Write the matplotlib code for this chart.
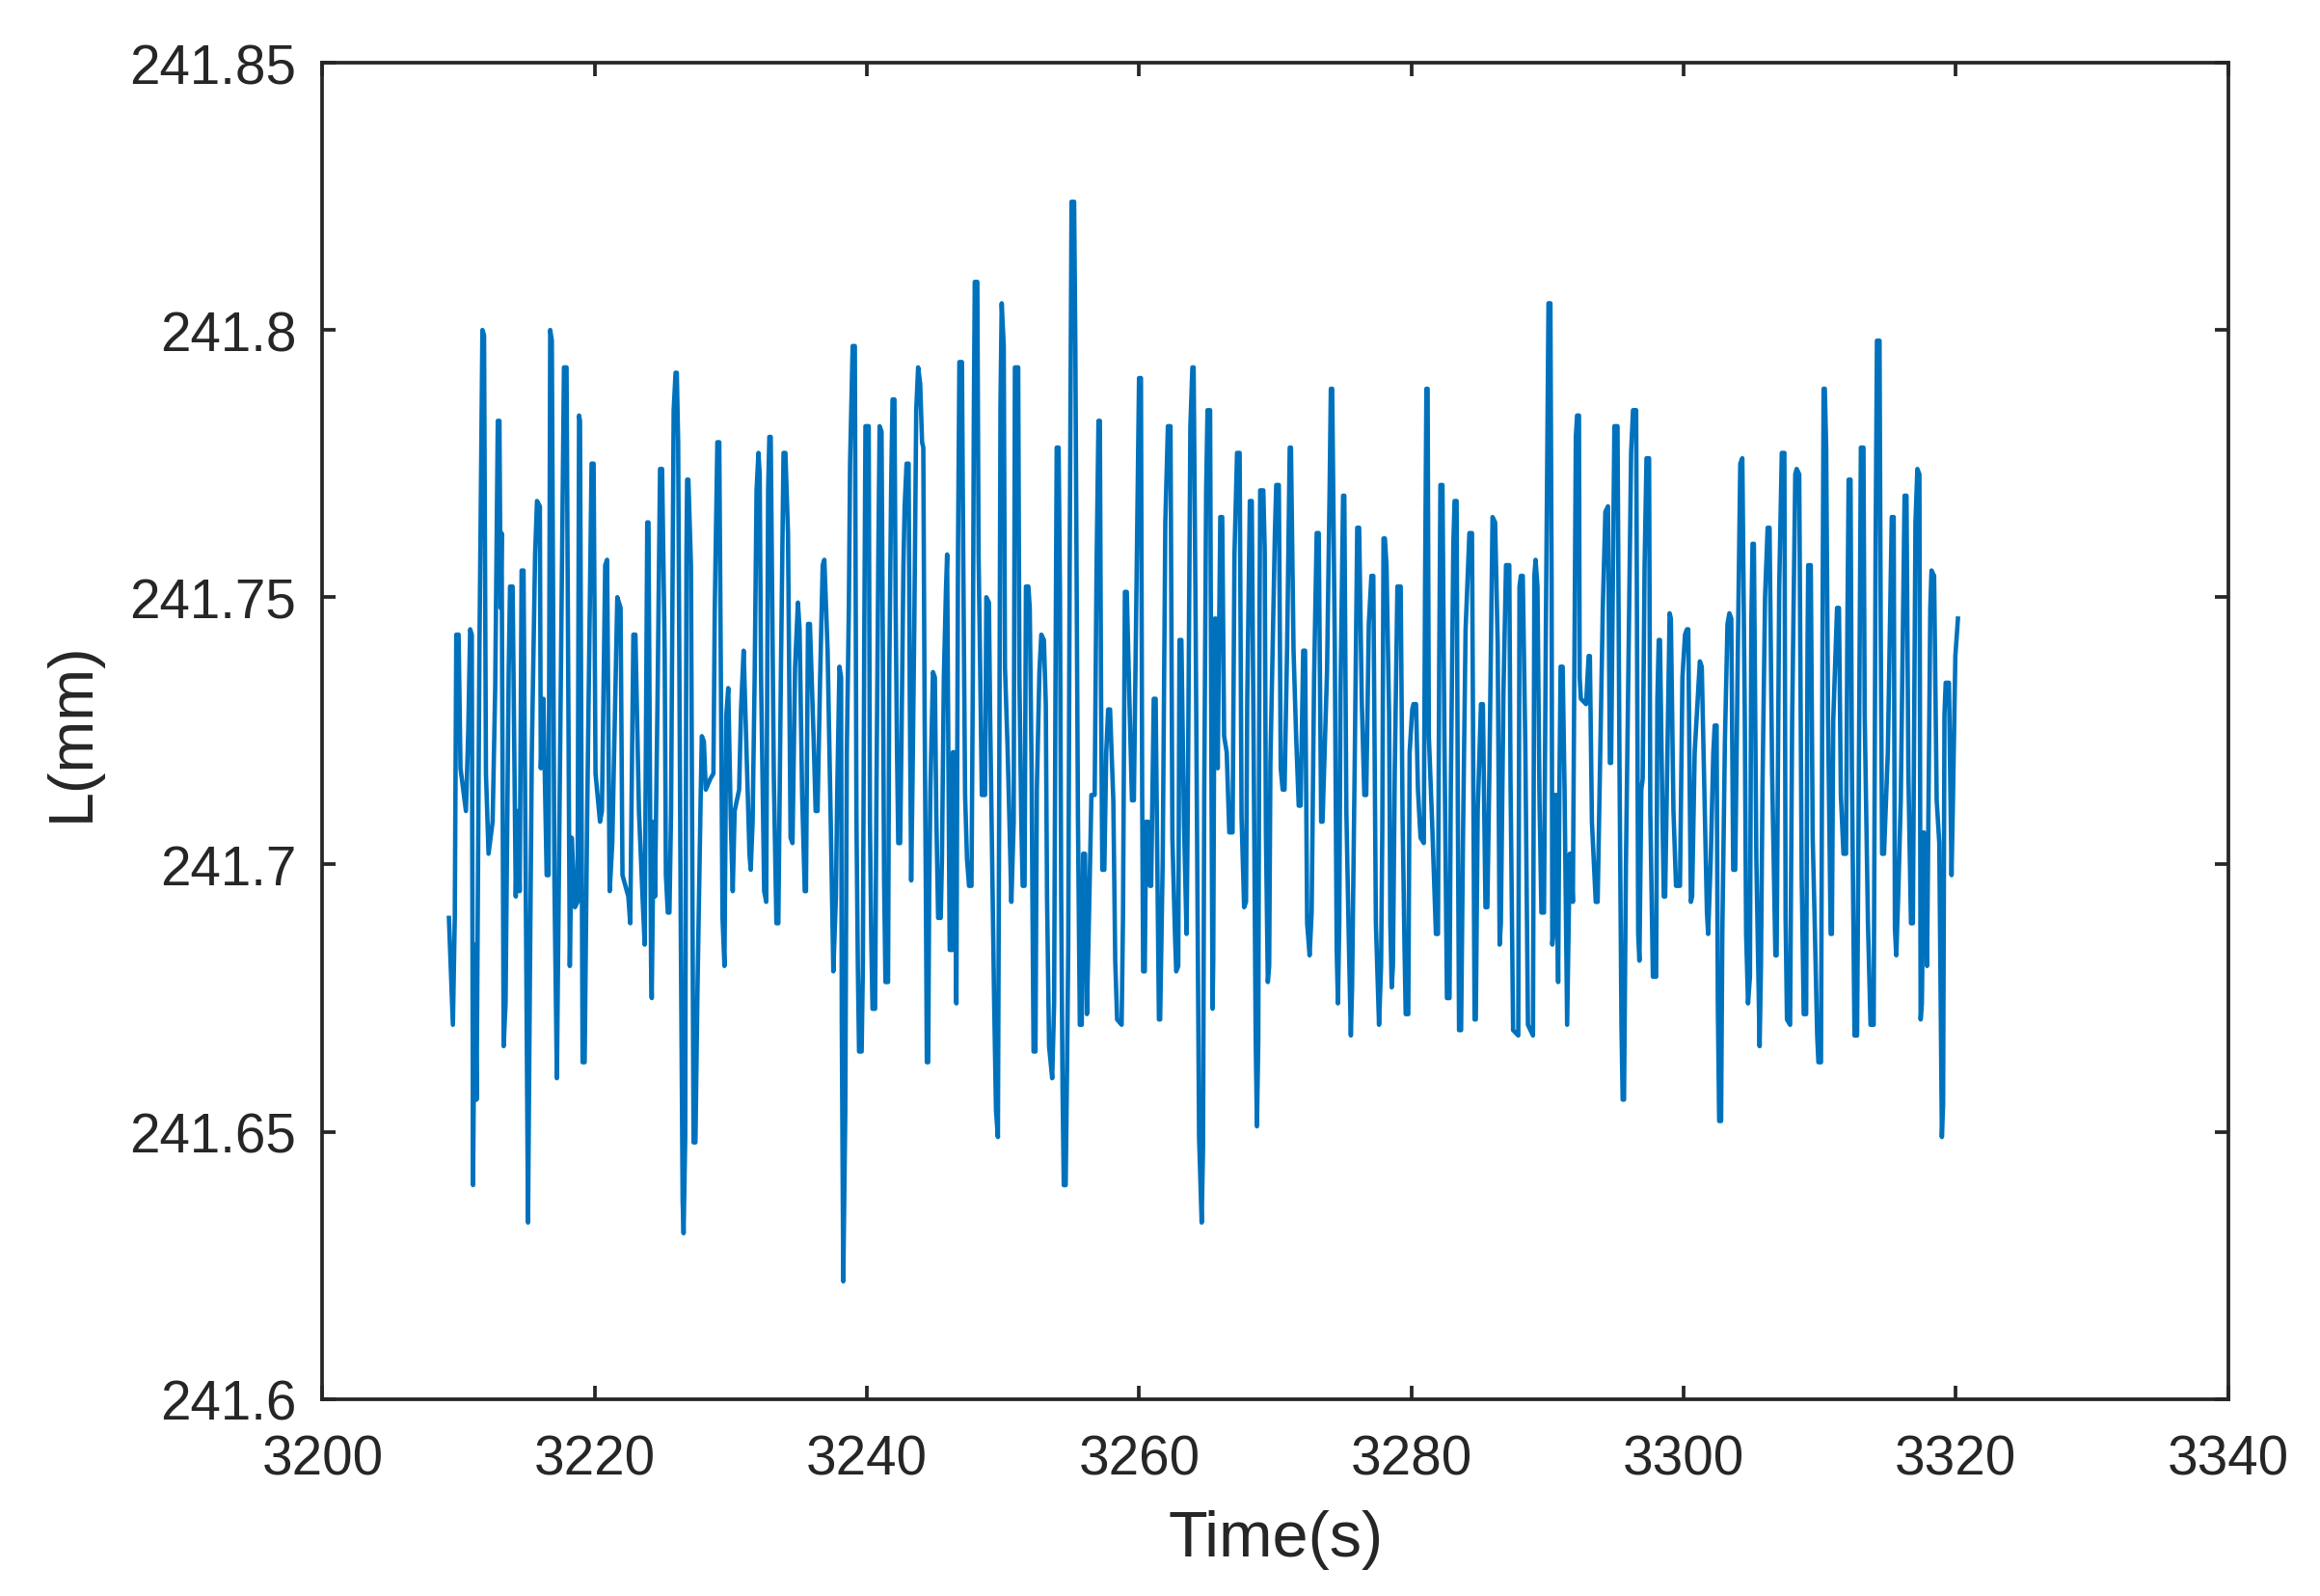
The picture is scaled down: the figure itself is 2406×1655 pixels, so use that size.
import matplotlib
matplotlib.use("Agg")
import matplotlib.pyplot as plt
import numpy as np

time_s = [
    3209.29, 3209.58, 3209.72, 3209.83, 3210.00, 3210.14, 3210.54, 3210.71, 3210.85, 3210.97,
    3211.06, 3211.20, 3211.32, 3211.53, 3211.75, 3211.87, 3212.01, 3212.20, 3212.50, 3212.69,
    3212.88, 3213.00, 3213.09, 3213.16, 3213.31, 3213.45, 3213.68, 3213.78, 3213.97, 3214.20,
    3214.34, 3214.49, 3214.63, 3214.77, 3214.91, 3215.10, 3215.24, 3215.38, 3215.62, 3215.76,
    3215.97, 3216.04, 3216.23, 3216.47, 3216.61, 3216.73, 3216.85, 3217.04, 3217.22, 3217.41,
    3217.74, 3217.93, 3218.10, 3218.17, 3218.31, 3218.55, 3218.74, 3218.85, 3218.92, 3219.11,
    3219.26, 3219.44, 3219.77, 3219.92, 3220.06, 3220.39, 3220.53, 3220.77, 3220.91, 3221.10,
    3221.29, 3221.66, 3221.90, 3222.04, 3222.47, 3222.61, 3222.84, 3222.99,
    3223.25, 3223.53, 3223.67, 3223.86, 3223.95, 3224.14, 3224.19, 3224.33, 3224.43, 3224.62,
    3224.80, 3224.95, 3225.14, 3225.23, 3225.37, 3225.49, 3225.61, 3225.80, 3225.94, 3226.03,
    3226.13, 3226.22, 3226.32, 3226.46, 3226.53, 3226.65, 3226.74, 3226.79, 3226.88, 3227.07,
    3227.17, 3227.26, 3227.40, 3227.54, 3227.78, 3227.87, 3228.02, 3228.16, 3228.49, 3228.72,
    3228.82, 3229.01, 3229.15, 3229.29, 3229.39, 3229.53, 3229.67, 3229.81, 3230.00, 3230.14,
    3230.28, 3230.61, 3230.75, 3230.94, 3231.13, 3231.37, 3231.46, 3231.60, 3231.75, 3231.89,
    3232.03, 3232.12, 3232.22, 3232.45, 3232.60, 3232.74, 3232.83, 3232.93, 3233.16, 3233.35,
    3233.49, 3233.68, 3233.87, 3234.01, 3234.20, 3234.39, 3234.53, 3234.72, 3234.93, 3235.05,
    3235.24, 3235.43, 3235.52, 3235.67, 3235.81, 3236.09, 3236.23, 3236.37, 3236.56, 3236.75,
    3236.87,
    3237.11, 3237.34, 3237.53, 3237.72, 3237.82, 3237.98, 3238.10, 3238.15, 3238.26, 3238.41,
    3238.52, 3238.67, 3238.76, 3238.95, 3239.11, 3239.23, 3239.33, 3239.42, 3239.61, 3239.70,
    3239.80, 3239.89, 3240.13, 3240.22, 3240.32, 3240.41, 3240.60, 3240.70, 3240.84, 3240.93,
    3241.07, 3241.17, 3241.26, 3241.36, 3241.55, 3241.64, 3241.78, 3241.88, 3242.02, 3242.11,
    3242.21, 3242.30, 3242.44, 3242.54, 3242.68, 3242.77, 3242.91, 3243.06, 3243.15, 3243.25,
    3243.34, 3243.48, 3243.62, 3243.76, 3243.91, 3244.05, 3244.14, 3244.24, 3244.33, 3244.40,
    3244.50, 3244.57, 3244.66, 3244.85, 3244.99, 3245.09, 3245.23, 3245.42, 3245.51, 3245.65,
    3245.80, 3245.89, 3245.98, 3246.08, 3246.27, 3246.31, 3246.41, 3246.48, 3246.57, 3246.69,
    3246.79, 3246.98, 3247.07, 3247.21, 3247.35, 3247.50, 3247.68, 3247.78, 3247.85, 3247.92,
    3248.11, 3248.20, 3248.30, 3248.44, 3248.68, 3248.77, 3248.96, 3249.05, 3249.20, 3249.34,
    3249.48, 3249.62, 3249.71, 3249.81, 3249.90, 3250.05, 3250.14, 3250.33, 3250.47, 3250.61,
    3250.78, 3250.87, 3251.11, 3251.20, 3251.34, 3251.44, 3251.58, 3251.68, 3251.86, 3251.96,
    3252.10, 3252.15, 3252.24, 3252.38, 3252.48, 3252.67, 3252.81, 3253.00, 3253.14, 3253.23,
    3253.38, 3253.61, 3253.75, 3253.85, 3253.94, 3254.08, 3254.18, 3254.27, 3254.37, 3254.46,
    3254.60, 3254.70, 3254.79, 3254.89, 3255.03, 3255.22, 3255.31, 3255.41, 3255.50, 3255.64,
    3255.78, 3255.88, 3256.02, 3256.16, 3256.35, 3256.49, 3256.73, 3256.87, 3257.01, 3257.11,
    3257.20, 3257.29, 3257.44, 3257.58, 3257.72, 3257.86, 3258.10, 3258.24, 3258.38, 3258.71,
    3258.81, 3258.95, 3259.09, 3259.28, 3259.47, 3259.61, 3259.80, 3259.99, 3260.13, 3260.22,
    3260.29, 3260.41, 3260.51, 3260.65, 3260.79, 3260.88, 3261.07, 3261.21, 3261.36, 3261.45,
    3261.54, 3261.73, 3261.92, 3262.11, 3262.30, 3262.44, 3262.63, 3262.72, 3262.87, 3262.96,
    3263.10, 3263.29, 3263.48, 3263.57, 3263.76, 3263.91, 3264.00, 3264.14, 3264.33,
    3264.40, 3264.59, 3264.69, 3264.78, 3264.92, 3265.02, 3265.21, 3265.30, 3265.39, 3265.44,
    3265.54, 3265.63, 3265.77, 3265.96, 3266.10, 3266.24, 3266.43, 3266.62, 3266.86, 3267.00,
    3267.19, 3267.38, 3267.52, 3267.71, 3267.85, 3267.94, 3268.13, 3268.27, 3268.42, 3268.56,
    3268.65, 3268.75, 3268.84, 3268.89, 3269.12, 3269.22, 3269.31, 3269.45, 3269.55, 3269.64,
    3269.83, 3269.97, 3270.07, 3270.26, 3270.40, 3270.54, 3270.68, 3270.87, 3271.06, 3271.15,
    3271.34, 3271.53, 3271.72, 3271.86, 3272.05, 3272.19, 3272.34, 3272.52, 3272.67, 3272.85,
    3273.04, 3273.19, 3273.37, 3273.47, 3273.80, 3273.99, 3274.08, 3274.18, 3274.37, 3274.51,
    3274.60, 3274.70, 3274.79, 3274.98, 3275.07, 3275.22, 3275.40, 3275.55, 3275.64, 3275.83,
    3276.02, 3276.16, 3276.35, 3276.54, 3276.68, 3276.87, 3277.06, 3277.20, 3277.39, 3277.62,
    3277.77, 3277.86, 3277.95, 3278.05,
    3278.17, 3278.36, 3278.45, 3278.55, 3278.64, 3278.78, 3278.97, 3279.21, 3279.35, 3279.49,
    3279.58, 3279.77, 3279.87, 3280.06, 3280.15, 3280.34, 3280.48, 3280.67, 3280.91, 3281.00,
    3281.10, 3281.19, 3281.28, 3281.52, 3281.71, 3281.80, 3281.95, 3282.04, 3282.13, 3282.28,
    3282.42, 3282.61, 3282.80, 3282.89, 3283.08, 3283.17, 3283.32, 3283.41, 3283.50, 3283.65,
    3283.79, 3283.98, 3284.26, 3284.45, 3284.54, 3284.64, 3284.73, 3284.87, 3285.11, 3285.25,
    3285.44, 3285.58, 3285.72, 3285.96, 3286.15, 3286.34, 3286.48, 3286.57, 3286.76, 3286.95,
    3287.19, 3287.28, 3287.47, 3287.85, 3287.94, 3288.04, 3288.18, 3288.37, 3288.56, 3288.93,
    3289.03, 3289.12, 3289.26, 3289.41, 3289.55, 3289.74, 3289.88, 3290.07, 3290.21, 3290.30,
    3290.35, 3290.49, 3290.54, 3290.63, 3290.78, 3290.87, 3290.96, 3291.11, 3291.25, 3291.44,
    3291.58, 3291.63, 3291.72, 3291.86,
    3292.00, 3292.08, 3292.17, 3292.31, 3292.36, 3292.45, 3292.83, 3293.02, 3293.11, 3293.26,
    3293.54, 3293.68, 3293.87, 3294.06, 3294.25, 3294.44, 3294.58, 3294.67, 3294.81, 3294.91,
    3295.14, 3295.29, 3295.43, 3295.52, 3295.62, 3295.76, 3295.90, 3296.14, 3296.28, 3296.51,
    3296.66, 3296.75, 3296.89, 3296.99, 3297.13, 3297.27, 3297.46, 3297.55, 3297.74, 3297.98,
    3298.07, 3298.17, 3298.26, 3298.45, 3298.54, 3298.64, 3298.88, 3298.97, 3299.06, 3299.25,
    3299.44, 3299.73, 3299.91, 3300.10, 3300.24, 3300.34, 3300.43, 3300.53, 3300.62, 3300.81,
    3301.19, 3301.33, 3301.52, 3301.71, 3301.80, 3301.99, 3302.18, 3302.28, 3302.42, 3302.51,
    3302.61, 3302.75, 3302.84, 3303.03, 3303.22, 3303.36, 3303.50, 3303.64, 3303.79, 3303.98,
    3304.16, 3304.31, 3304.49, 3304.59, 3304.73, 3304.87, 3304.97, 3305.06, 3305.16, 3305.34,
    3305.58, 3305.68,
    3305.79, 3305.98, 3306.17, 3306.31, 3306.50, 3306.74, 3306.83, 3307.02, 3307.21, 3307.40,
    3307.49, 3307.59, 3307.82, 3307.97, 3308.20, 3308.30, 3308.49, 3308.67, 3308.82, 3309.00,
    3309.10, 3309.15, 3309.34, 3309.48, 3309.62, 3309.81, 3309.90, 3310.09, 3310.19, 3310.28,
    3310.37, 3310.47, 3310.61, 3310.80, 3310.89, 3310.99, 3311.27, 3311.41, 3311.55, 3311.74,
    3311.93, 3312.03, 3312.12, 3312.26, 3312.36, 3312.55, 3312.74, 3312.83, 3313.02, 3313.21,
    3313.30, 3313.54, 3313.73, 3313.96, 3314.10, 3314.20, 3314.39, 3314.48, 3314.58, 3314.72,
    3315.00, 3315.29, 3315.43, 3315.52, 3315.62, 3315.76, 3315.95, 3316.23, 3316.37, 3316.51,
    3316.70, 3316.84, 3317.03, 3317.17, 3317.32, 3317.41, 3317.50, 3317.65, 3317.88, 3318.12,
    3318.21, 3318.40, 3318.59, 3318.78, 3318.92, 3318.97, 3319.06, 3319.16, 3319.25, 3319.49,
    3319.68, 3319.77, 3319.96, 3320.15,
]

length_mm = [
    241.690, 241.670, 241.690, 241.743, 241.743, 241.718, 241.710, 241.725, 241.744, 241.743,
    241.640, 241.685, 241.656, 241.740, 241.800, 241.799, 241.717, 241.702, 241.708, 241.733,
    241.783, 241.783, 241.748, 241.762, 241.666, 241.674, 241.736, 241.752, 241.752, 241.694,
    241.710, 241.695, 241.755, 241.755, 241.705, 241.633, 241.679, 241.721, 241.758, 241.768,
    241.767, 241.718, 241.731, 241.698, 241.698, 241.800, 241.798, 241.697, 241.660, 241.708,
    241.793, 241.793, 241.714, 241.681, 241.705, 241.692, 241.693, 241.784, 241.783, 241.663,
    241.663, 241.708, 241.775, 241.775, 241.717, 241.708, 241.710, 241.756, 241.757, 241.695,
    241.704, 241.750, 241.748, 241.698, 241.694, 241.689, 241.743, 241.743,
    241.710, 241.693, 241.685, 241.764, 241.764, 241.681, 241.675, 241.708, 241.694, 241.732,
    241.774, 241.774, 241.740, 241.698, 241.691, 241.691, 241.710, 241.785, 241.792, 241.792,
    241.779, 241.735, 241.689, 241.637, 241.631, 241.649, 241.758, 241.772, 241.772, 241.756,
    241.701, 241.648, 241.648, 241.675, 241.712, 241.724, 241.723, 241.714, 241.716, 241.717,
    241.748, 241.779, 241.779, 241.728, 241.690, 241.681, 241.728, 241.733, 241.708, 241.695,
    241.710, 241.714, 241.729, 241.740, 241.723, 241.702, 241.699, 241.708, 241.735, 241.770,
    241.777, 241.773, 241.735, 241.695, 241.693, 241.770, 241.780, 241.780, 241.716, 241.689,
    241.689, 241.736, 241.777, 241.777, 241.762, 241.705, 241.704, 241.737, 241.749, 241.744,
    241.713, 241.695, 241.695, 241.745, 241.745, 241.723, 241.710, 241.710, 241.735, 241.756,
    241.757,
    241.740, 241.708, 241.680, 241.694, 241.714, 241.737, 241.735, 241.671, 241.622, 241.654,
    241.721, 241.748, 241.775, 241.797, 241.797, 241.708, 241.681, 241.665, 241.665, 241.681,
    241.741, 241.782, 241.782, 241.708, 241.686, 241.673, 241.673, 241.714, 241.759, 241.782,
    241.781, 241.740, 241.697, 241.678, 241.678, 241.736, 241.771, 241.787, 241.787, 241.748,
    241.721, 241.704, 241.704, 241.724, 241.756, 241.767, 241.775, 241.775, 241.730, 241.697,
    241.714, 241.745, 241.785, 241.793, 241.790, 241.779, 241.778, 241.727, 241.694, 241.663,
    241.663, 241.694, 241.714, 241.736, 241.735, 241.710, 241.690, 241.690, 241.701, 241.735,
    241.751, 241.758, 241.721, 241.684, 241.684, 241.721, 241.721, 241.694, 241.674, 241.759,
    241.794, 241.794, 241.759, 241.713, 241.701, 241.696, 241.696, 241.735, 241.783, 241.809,
    241.809, 241.758, 241.740, 241.713, 241.713, 241.750, 241.749, 241.728, 241.701, 241.675,
    241.654, 241.649, 241.708, 241.786, 241.805, 241.797, 241.737, 241.722, 241.708, 241.693,
    241.708, 241.793, 241.793, 241.735, 241.708, 241.696, 241.696, 241.752, 241.752, 241.748,
    241.717, 241.696, 241.665, 241.665, 241.714, 241.736, 241.743, 241.742, 241.730, 241.694,
    241.666, 241.660, 241.674, 241.733, 241.778, 241.778, 241.751, 241.694, 241.658, 241.640,
    241.640, 241.662, 241.685, 241.754, 241.824, 241.824, 241.797, 241.752, 241.709, 241.670,
    241.670, 241.702, 241.702, 241.672, 241.695, 241.713, 241.713, 241.756, 241.783, 241.783,
    241.731, 241.699, 241.699, 241.721, 241.729, 241.729, 241.712, 241.682, 241.671, 241.670,
    241.690, 241.751, 241.751, 241.731, 241.712, 241.712, 241.751, 241.791, 241.791, 241.713,
    241.680, 241.680, 241.708, 241.708, 241.696, 241.696, 241.731, 241.731, 241.694, 241.671,
    241.671, 241.701, 241.764, 241.782, 241.782, 241.705, 241.687, 241.680, 241.681, 241.742,
    241.742, 241.708, 241.687, 241.710, 241.782, 241.793, 241.793, 241.748, 241.674,
    241.649, 241.633, 241.647, 241.714, 241.770, 241.785, 241.785, 241.722, 241.673, 241.682,
    241.746, 241.746, 241.718, 241.765, 241.765, 241.724, 241.721, 241.706, 241.706, 241.758,
    241.777, 241.777, 241.709, 241.692, 241.693, 241.731, 241.768, 241.768, 241.718, 241.667,
    241.651, 241.667, 241.747, 241.770, 241.770, 241.759, 241.706, 241.678, 241.681, 241.719,
    241.744, 241.762, 241.771, 241.771, 241.718, 241.714, 241.714, 241.741, 241.778, 241.778,
    241.740, 241.724, 241.711, 241.711, 241.740, 241.740, 241.689, 241.683, 241.691, 241.735,
    241.762, 241.762, 241.708, 241.708, 241.736, 241.770, 241.789, 241.789, 241.741, 241.684,
    241.674, 241.689, 241.732, 241.769, 241.769, 241.710, 241.686, 241.668, 241.677, 241.718,
    241.763, 241.763, 241.731, 241.713, 241.713, 241.745, 241.754, 241.754, 241.689, 241.670,
    241.681, 241.706, 241.761, 241.761,
    241.756, 241.728, 241.689, 241.677, 241.681, 241.718, 241.752, 241.752, 241.709, 241.685,
    241.672, 241.672, 241.721, 241.729, 241.730, 241.730, 241.714, 241.705, 241.704, 241.751,
    241.789, 241.789, 241.724, 241.708, 241.694, 241.687, 241.687, 241.737, 241.771, 241.771,
    241.725, 241.675, 241.675, 241.713, 241.760, 241.768, 241.768, 241.710, 241.669, 241.669,
    241.705, 241.744, 241.762, 241.762, 241.718, 241.671, 241.671, 241.710, 241.730, 241.730,
    241.692, 241.692, 241.716, 241.765, 241.764, 241.741, 241.685, 241.689, 241.732, 241.756,
    241.756, 241.716, 241.669, 241.668, 241.752, 241.754, 241.754, 241.722, 241.670, 241.668,
    241.754, 241.757, 241.752, 241.712, 241.691, 241.691, 241.745, 241.805, 241.805, 241.752,
    241.685, 241.689, 241.713, 241.713, 241.678, 241.714, 241.737, 241.737, 241.714, 241.670,
    241.694, 241.702, 241.702, 241.693,
    241.750, 241.780, 241.784, 241.784, 241.735, 241.731, 241.730, 241.739, 241.739, 241.708,
    241.693, 241.693, 241.721, 241.748, 241.766, 241.767, 241.719, 241.719, 241.755, 241.782,
    241.782, 241.717, 241.670, 241.656, 241.656, 241.700, 241.728, 241.777, 241.785, 241.785,
    241.687, 241.682, 241.714, 241.716, 241.756, 241.776, 241.776, 241.710, 241.679, 241.679,
    241.731, 241.742, 241.742, 241.708, 241.694, 241.694, 241.732, 241.747, 241.746, 241.710,
    241.696, 241.696, 241.735, 241.743, 241.744, 241.744, 241.718, 241.693, 241.694, 241.721,
    241.738, 241.737, 241.714, 241.691, 241.687, 241.701, 241.721, 241.726, 241.726, 241.674,
    241.652, 241.652, 241.687, 241.723, 241.745, 241.747, 241.746, 241.699, 241.699, 241.740,
    241.775, 241.776, 241.728, 241.687, 241.674, 241.679, 241.745, 241.760, 241.760, 241.701,
    241.666, 241.681,
    241.714, 241.750, 241.763, 241.763, 241.717, 241.683, 241.683, 241.752, 241.777, 241.777,
    241.690, 241.671, 241.670, 241.727, 241.773, 241.774, 241.773, 241.698, 241.672, 241.672,
    241.741, 241.756, 241.756, 241.705, 241.690, 241.668, 241.663, 241.663, 241.736, 241.789,
    241.789, 241.778, 241.727, 241.687, 241.687, 241.727, 241.748, 241.748, 241.713, 241.702,
    241.702, 241.745, 241.772, 241.772, 241.718, 241.668, 241.668, 241.700, 241.778, 241.778,
    241.728, 241.689, 241.670, 241.670, 241.759, 241.798, 241.798, 241.743, 241.702, 241.702,
    241.721, 241.765, 241.765, 241.688, 241.683, 241.694, 241.712, 241.769, 241.769, 241.717,
    241.689, 241.689, 241.764, 241.774, 241.773, 241.671, 241.674, 241.706, 241.681, 241.748,
    241.755, 241.754, 241.712, 241.704, 241.663, 241.649, 241.655, 241.728, 241.734, 241.734,
    241.698, 241.710, 241.739, 241.746,
]

x_ticks = [3200, 3220, 3240, 3260, 3280, 3300, 3320, 3340]
y_ticks = [241.6, 241.65, 241.7, 241.75, 241.8, 241.85]
y_tick_labels = ["241.6", "241.65", "241.7", "241.75", "241.8", "241.85"]

plt.rcParams['font.family'] = ['Liberation Sans', 'DejaVu Sans']
ink = '#262626'

fig = plt.figure(figsize=(2406 / 300, 1656 / 300), dpi=300)
ax = fig.add_axes([0.139, 0.1234, 0.8214, 0.8367])

ax.plot(time_s, length_mm, color='#0072BD', linewidth=1.1)

ax.set_xlim(3200, 3340)
ax.set_ylim(241.6, 241.85)
ax.set_xticks(x_ticks)
ax.set_yticks(y_ticks)
ax.set_yticklabels(y_tick_labels)

ax.tick_params(direction='in', length=3.4, width=0.9, colors=ink,
               labelsize=13.6, top=True, right=True)
ax.tick_params(axis='x', pad=8.5)
ax.tick_params(axis='y', pad=6.5)
for s in ax.spines.values():
    s.set_linewidth(0.9)
    s.set_color(ink)

ax.set_xlabel('Time(s)', fontsize=16, color=ink, labelpad=6)
ax.set_ylabel('L(mm)', fontsize=15.5, color=ink, labelpad=7)

fig.savefig('out.png', dpi=300, facecolor='white')
